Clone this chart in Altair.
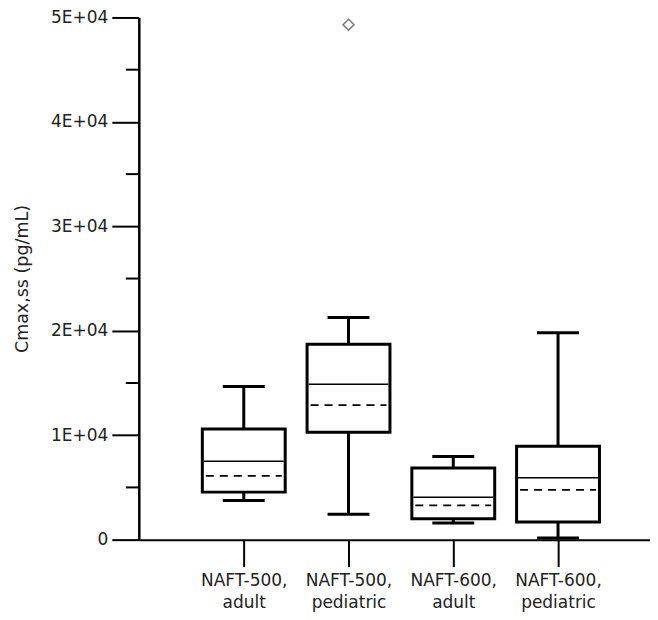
import altair as alt
import pandas as pd

categories = ["NAFT-500, adult", "NAFT-500, pediatric", "NAFT-600, adult", "NAFT-600, pediatric"]
whisker_low = [3750, 2420, 1590, 150]
q1 = [4550, 10280, 2000, 1690]
median = [7510, 14880, 4070, 5920]
mean = [6110, 12880, 3280, 4770]
q3 = [10590, 18700, 6870, 8940]
whisker_high = [14670, 21280, 7950, 19820]

outlier_category = ["NAFT-500, pediatric"]
outlier_value = [49300]

y_major = [0, 10000, 20000, 30000, 40000, 50000]
y_minor = [5000, 15000, 25000, 35000, 45000]

df = pd.DataFrame({
    "cat": categories, "lo": whisker_low, "q1": q1, "med": median,
    "mean": mean, "q3": q3, "hi": whisker_high,
})
df_out = pd.DataFrame({"cat": outlier_category, "v": outlier_value})
df_minor = pd.DataFrame({"v": y_minor})

FONT = "DejaVu Sans"
TXT = "#222222"

x_scale = alt.Scale(type="point", padding=0.94, align=0.533)
x_enc = alt.X(
    "cat:N", sort=categories, scale=x_scale,
    axis=alt.Axis(
        title=None, labelAngle=0, labelExpr="split(datum.label, ' ')",
        tickSize=27, tickWidth=2, tickColor="black", domainWidth=2, domainColor="black",
        labelFont=FONT, labelFontSize=17, labelColor=TXT, labelPadding=6,
        labelLineHeight=22,
    ),
)
y_scale = alt.Scale(domain=[0, 50000], nice=False, zero=True)
y_enc = alt.Y(
    "lo:Q", scale=y_scale,
    axis=alt.Axis(
        title="Cmax,ss (pg/mL)", values=y_major,
        labelExpr="datum.value == 0 ? '0' : (datum.value / 10000) + 'E+04'",
        tickSize=27, tickWidth=2, tickColor="black", domainWidth=2.5, domainColor="black",
        labelFont=FONT, labelFontSize=17, labelColor=TXT, labelPadding=4,
        titleFont=FONT, titleFontSize=17.5, titleFontWeight="normal", titleColor=TXT,
        titlePadding=19,
    ),
)

base = alt.Chart(df)
xc = alt.X("cat:N", sort=categories, scale=x_scale)

whisk = base.mark_rule(color="black", strokeWidth=3).encode(x=x_enc, y=y_enc, y2="hi:Q")
box = base.mark_bar(size=83, fill="white", stroke="black", strokeWidth=3).encode(
    x=xc, y=alt.Y("q1:Q", scale=y_scale), y2="q3:Q"
)
med = base.mark_rule(color="black", strokeWidth=1.5, xOffset=-40, x2Offset=40).encode(
    x=xc, x2="cat:N", y=alt.Y("med:Q", scale=y_scale)
)
mn = base.mark_rule(color="black", strokeWidth=1.8, strokeDash=[8, 6], xOffset=-38, x2Offset=38).encode(
    x=xc, x2="cat:N", y=alt.Y("mean:Q", scale=y_scale)
)
cap_hi = base.mark_rule(color="black", strokeWidth=3, xOffset=-21, x2Offset=21).encode(
    x=xc, x2="cat:N", y=alt.Y("hi:Q", scale=y_scale)
)
cap_lo = base.mark_rule(color="black", strokeWidth=3, xOffset=-21, x2Offset=21).encode(
    x=xc, x2="cat:N", y=alt.Y("lo:Q", scale=y_scale)
)
out = alt.Chart(df_out).mark_point(shape="diamond", filled=False, color="#444444", size=120, strokeWidth=1.6).encode(
    x=xc, y=alt.Y("v:Q", scale=y_scale)
)
minor = alt.Chart(df_minor).mark_rule(color="black", strokeWidth=2).encode(
    x=alt.value(-13), x2=alt.value(0), y=alt.Y("v:Q", scale=y_scale)
)

chart = alt.layer(whisk, box, med, mn, cap_hi, cap_lo, out, minor).properties(
    width=512, height=523, padding={"left": 5, "top": 0, "right": 0, "bottom": 2}
).configure_view(stroke=None).configure_axis(grid=False)

chart.save("out.html", embed_options={"renderer": "svg", "actions": False})
